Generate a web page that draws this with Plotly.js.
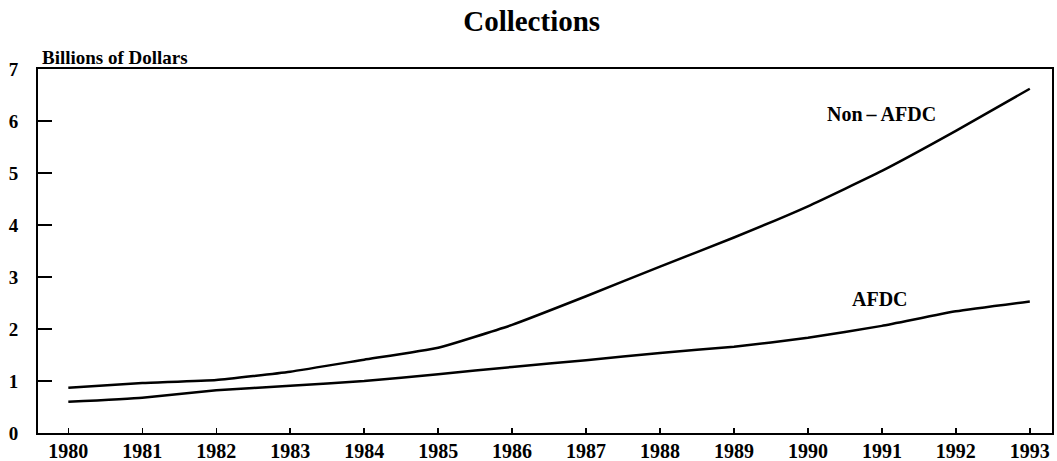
<!DOCTYPE html>
<html>
<head>
<meta charset="utf-8">
<script src="https://cdn.plot.ly/plotly-3.0.1.min.js"></script>
<style>html,body{margin:0;padding:0;background:#fff;}#chart{width:1057px;height:461px;}</style>
</head>
<body>
<div id="chart"></div>
<script>
const years = [1980,1981,1982,1983,1984,1985,1986,1987,1988,1989,1990,1991,1992,1993];
const nonAfdc = [0.87,0.96,1.02,1.18,1.41,1.64,2.08,2.63,3.2,3.76,4.36,5.04,5.81,6.62];
const afdc = [0.6,0.68,0.82,0.91,1.0,1.13,1.27,1.4,1.54,1.66,1.83,2.06,2.34,2.53];
const yTicks = [0,1,2,3,4,5,6,7];
const seriesLabels = ["Non\u2009\u2013\u2009AFDC","AFDC"];

const font = "Liberation Serif";
const data = [
  {x: years, y: nonAfdc, type: 'scatter', mode: 'lines', name: seriesLabels[0],
   line: {color: '#000', width: 2.5, shape: 'spline', smoothing: 0.4}},
  {x: years, y: afdc, type: 'scatter', mode: 'lines', name: seriesLabels[1],
   line: {color: '#000', width: 2.5, shape: 'spline', smoothing: 0.4}}
];
const layout = {
  width: 1057, height: 461,
  margin: {l: 38, r: 5, t: 69, b: 28},
  paper_bgcolor: '#fff', plot_bgcolor: '#fff',
  showlegend: false,
  font: {family: font, color: '#000'},
  title: {text: '<b>Collections</b>', x: 0.503, xanchor: 'center', y: 0.955, yanchor: 'middle',
          font: {family: font, size: 29, color: '#000'}},
  xaxis: {range: [1979.59, 1993.3], tickvals: years, ticktext: years.map(String),
          ticks: 'inside', ticklen: 5, tickwidth: 1.5, tickcolor: '#000',
          showline: true, linecolor: '#000', linewidth: 2, mirror: true,
          showgrid: false, zeroline: false, ticklabelstandoff: -1,
          tickfont: {family: font, size: 20, color: '#000', weight: 'bold'}},
  yaxis: {range: [0, 7], tickvals: yTicks, ticktext: yTicks.map(String),
          ticks: 'inside', ticklen: 14, tickwidth: 1.5, tickcolor: '#000',
          showline: true, linecolor: '#000', linewidth: 2, mirror: true,
          showgrid: false, zeroline: false, ticklabelstandoff: 14,
          tickfont: {family: font, size: 19, color: '#000', weight: 'bold'}},
  annotations: [
    {text: '<b>Billions of Dollars</b>', xref: 'paper', yref: 'paper', x: 0.002, y: 1.0,
     xanchor: 'left', yanchor: 'bottom', showarrow: false, yshift: -1,
     font: {family: font, size: 19, color: '#000'}},
    {text: '<b>' + seriesLabels[0] + '</b>', x: 1991.0, y: 6.14, showarrow: false,
     font: {family: font, size: 20, color: '#000'}},
    {text: '<b>' + seriesLabels[1] + '</b>', x: 1990.98, y: 2.57, showarrow: false,
     font: {family: font, size: 20, color: '#000'}}
  ]
};
Plotly.newPlot('chart', data, layout, {staticPlot: true, displayModeBar: false});
</script>
</body>
</html>
